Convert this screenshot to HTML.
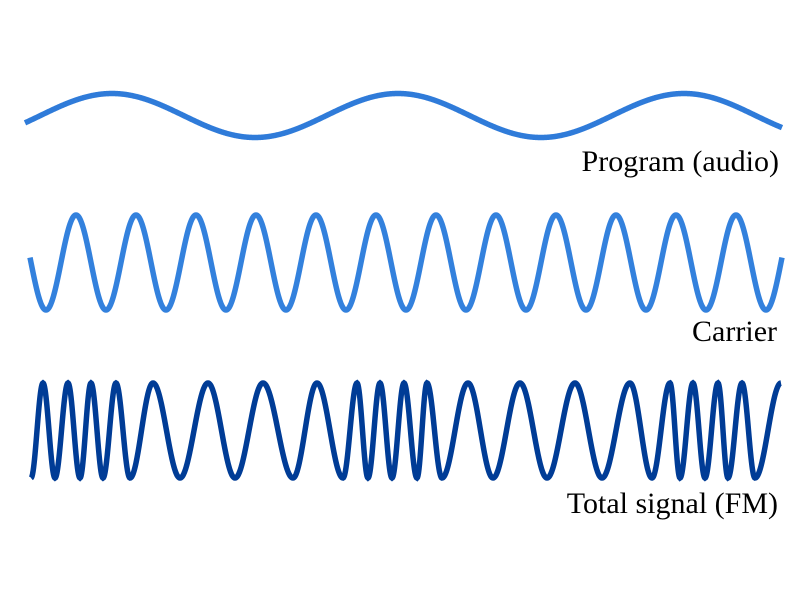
<!DOCTYPE html>
<html><head><meta charset="utf-8"><style>
html,body{margin:0;padding:0;background:#fff;width:800px;height:600px;overflow:hidden}
svg{display:block}
text{font-family:"Liberation Serif",serif;font-size:30px;fill:#000}
</style></head><body>
<svg width="800" height="600" viewBox="0 0 800 600">
<path id="p1" fill="none" stroke="#2f7bd9" stroke-width="5.5"/>
<path id="p2" fill="none" stroke="#3381dd" stroke-width="5.5"/>
<path id="p3" fill="none" stroke="#003c96" stroke-width="5.5"/>
<text x="779" y="171" text-anchor="end">Program (audio)</text>
<text x="777" y="341" text-anchor="end">Carrier</text>
<text x="778" y="513" text-anchor="end">Total signal (FM)</text>
</svg>
<script>
function fn(f,x0,x1){var d="";for(var x=x0;x<=x1;x+=0.5){d+=(x==x0?"M":"L")+x.toFixed(1)+" "+f(x).toFixed(2)+" ";}return d;}
document.getElementById("p1").setAttribute("d",fn(function(x){return 115.5-22*Math.cos(2*Math.PI*(x-112)/286);},25,782));
document.getElementById("p2").setAttribute("d",fn(function(x){return 262.5-47.5*Math.cos(2*Math.PI*(x-16)/60);},30,782));
var ex=[31,43,55,68,80,91,103,116,130,153,180,208,235,263,293,317,343,357,368,380,392,404,417,427,442,468,493,520,547,575,602,630,652,670,680,693,705,718,728,742,755,781];
var mid=430.5,amp=47.5;
function fm(x){for(var i=0;i<ex.length-1;i++){if(x<=ex[i+1]){var t=(x-ex[i])/(ex[i+1]-ex[i]);if(t<0)t=0;var s=(i%2==0)?1:-1;return mid+s*amp*Math.cos(Math.PI*t);}}return mid-amp;}
document.getElementById("p3").setAttribute("d",fn(fm,31,781));
</script>
</body></html>
